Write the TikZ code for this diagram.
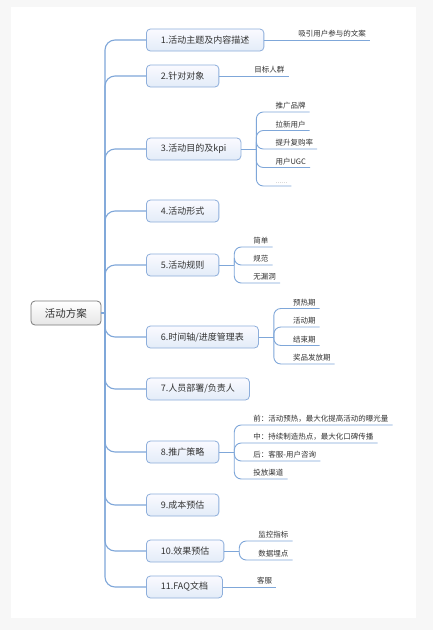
\documentclass[tikz,border=0pt]{standalone}
\usepackage{fontspec}
\setmainfont{Noto Sans CJK SC}
\definecolor{mapLine}{HTML}{7FA7D9}
\definecolor{mapBorder}{HTML}{8DAEDB}
\definecolor{mapFill}{HTML}{E3ECF8}
\definecolor{mapText}{HTML}{333333}
\definecolor{rootBorder}{HTML}{7A7A7A}
\definecolor{pageBg}{HTML}{F7F7F7}
\begin{document}
\begin{tikzpicture}[x=1pt,y=-1pt,
    mapRoot/.style={draw=rootBorder,line width=0.8pt,rounded corners=4pt,top color=white,bottom color=black!10,
        minimum height=24pt,inner xsep=14pt,text=mapText,font=\fontsize{10.5}{12}\selectfont},
    mapTopic/.style={draw=mapBorder,line width=0.8pt,rounded corners=4pt,top color=blue!2,bottom color=mapFill,
        minimum height=22pt,inner xsep=14.5pt,anchor=west,text=mapText,font=\fontsize{9}{11}\selectfont},
    mapLeaf/.style={anchor=south west,inner xsep=4pt,inner ysep=2.5pt,text=mapText,font=\fontsize{7.5}{9}\selectfont},
    mapEdge/.style={draw=mapLine,line width=1.1pt,rounded corners=10pt},
    mapSub/.style={draw=mapLine,line width=0.9pt,rounded corners=7pt},
]
% page
\fill[pageBg] (0,0) rectangle (433,630);
\fill[white] (11,7) rectangle (416,618);
\useasboundingbox (0,0) rectangle (433,630);
% root and topics
\node[mapRoot] (root) at (66,313) {活动方案};
\coordinate (trunk) at (105,313);
\node[mapTopic] (b1) at (146,40) {1.活动主题及内容描述};
\node[mapTopic] (b2) at (146,76) {2.针对对象};
\node[mapTopic] (b3) at (146,149) {3.活动目的及kpi};
\node[mapTopic] (b4) at (146,211) {4.活动形式};
\node[mapTopic] (b5) at (146,265) {5.活动规则};
\node[mapTopic] (b6) at (146,337) {6.时间轴/进度管理表};
\node[mapTopic] (b7) at (146,389) {7.人员部署/负责人};
\node[mapTopic] (b8) at (146,452) {8.推广策略};
\node[mapTopic] (b9) at (146,505) {9.成本预估};
\node[mapTopic] (b10) at (146,551) {10.效果预估};
\node[mapTopic] (b11) at (146,587) {11.FAQ文档};
\draw[mapEdge] (root.east) -- (trunk);
\draw[mapEdge] (trunk) |- (b1.west);
\draw[mapEdge] (trunk) |- (b2.west);
\draw[mapEdge] (trunk) |- (b3.west);
\draw[mapEdge] (trunk) |- (b4.west);
\draw[mapEdge] (trunk) |- (b5.west);
\draw[mapEdge] (trunk) |- (b6.west);
\draw[mapEdge] (trunk) |- (b7.west);
\draw[mapEdge] (trunk) |- (b8.west);
\draw[mapEdge] (trunk) |- (b9.west);
\draw[mapEdge] (trunk) |- (b10.west);
\draw[mapEdge] (trunk) |- (b11.west);
% single leaves
\node[mapLeaf] (l1) at ([xshift=30pt]b1.east) {吸引用户参与的文案};
\node[mapLeaf] (l2) at ([xshift=31pt]b2.east) {目标人群};
\node[mapLeaf] (l11) at ([xshift=30pt]b11.east) {客服};
\draw[mapSub] (b1.east) -- (l1.south east);
\draw[mapSub] (b2.east) -- (l2.south east);
\draw[mapSub] (b11.east) -- (l11.south east);
% kpi
\coordinate (f3) at ([xshift=15pt]b3.east);
\coordinate (t3) at ([xshift=15pt]f3);
\node[mapLeaf] (l31) at (t3 |- 0,112) {推广品牌};
\node[mapLeaf] (l32) at (t3 |- 0,130.5) {拉新用户};
\node[mapLeaf] (l33) at (t3 |- 0,149) {提升复购率};
\node[mapLeaf] (l34) at (t3 |- 0,167.5) {用户UGC};
\node[mapLeaf,font=\fontsize{5.5}{6}\selectfont,text=black!55] (l35) at (t3 |- 0,186) {……};
\draw[mapSub] (b3.east) -- (f3);
\draw[mapSub] (f3) |- (l31.south east);
\draw[mapSub] (f3) |- (l32.south east);
\draw[mapSub] (f3) |- (l33.south east);
\draw[mapSub] (f3) |- (l34.south east);
\draw[mapSub] (f3) |- (l35.south east);
% rules
\coordinate (f5) at ([xshift=15pt]b5.east);
\coordinate (t5) at ([xshift=15pt]f5);
\node[mapLeaf] (l51) at (t5 |- 0,247) {简单};
\node[mapLeaf] (l52) at (t5 |- 0,265) {规范};
\node[mapLeaf] (l53) at (t5 |- 0,283) {无漏洞};
\draw[mapSub] (b5.east) -- (f5);
\draw[mapSub] (f5) |- (l51.south east);
\draw[mapSub] (f5) |- (l52.south east);
\draw[mapSub] (f5) |- (l53.south east);
% timeline
\coordinate (f6) at ([xshift=15pt]b6.east);
\coordinate (t6) at ([xshift=15pt]f6);
\node[mapLeaf] (l61) at (t6 |- 0,308.5) {预热期};
\node[mapLeaf] (l62) at (t6 |- 0,327) {活动期};
\node[mapLeaf] (l63) at (t6 |- 0,345.5) {结束期};
\node[mapLeaf] (l64) at (t6 |- 0,364) {奖品发放期};
\draw[mapSub] (b6.east) -- (f6);
\draw[mapSub] (f6) |- (l61.south east);
\draw[mapSub] (f6) |- (l62.south east);
\draw[mapSub] (f6) |- (l63.south east);
\draw[mapSub] (f6) |- (l64.south east);
% promotion
\coordinate (f8) at ([xshift=15pt]b8.east);
\coordinate (t8) at ([xshift=15pt]f8);
\node[mapLeaf] (l81) at (t8 |- 0,425) {前：活动预热，最大化提高活动的曝光量};
\node[mapLeaf] (l82) at (t8 |- 0,443) {中：持续制造热点，最大化口碑传播};
\node[mapLeaf] (l83) at (t8 |- 0,461) {后：客服-用户咨询};
\node[mapLeaf] (l84) at (t8 |- 0,479) {投放渠道};
\draw[mapSub] (b8.east) -- (f8);
\draw[mapSub] (f8) |- (l81.south east);
\draw[mapSub] (f8) |- (l82.south east);
\draw[mapSub] (f8) |- (l83.south east);
\draw[mapSub] (f8) |- (l84.south east);
% effect
\coordinate (f10) at ([xshift=15pt]b10.east);
\coordinate (t10) at ([xshift=15pt]f10);
\node[mapLeaf] (l101) at (t10 |- 0,541) {监控指标};
\node[mapLeaf] (l102) at (t10 |- 0,560) {数据埋点};
\draw[mapSub] (b10.east) -- (f10);
\draw[mapSub] (f10) |- (l101.south east);
\draw[mapSub] (f10) |- (l102.south east);
\end{tikzpicture}
\end{document}
